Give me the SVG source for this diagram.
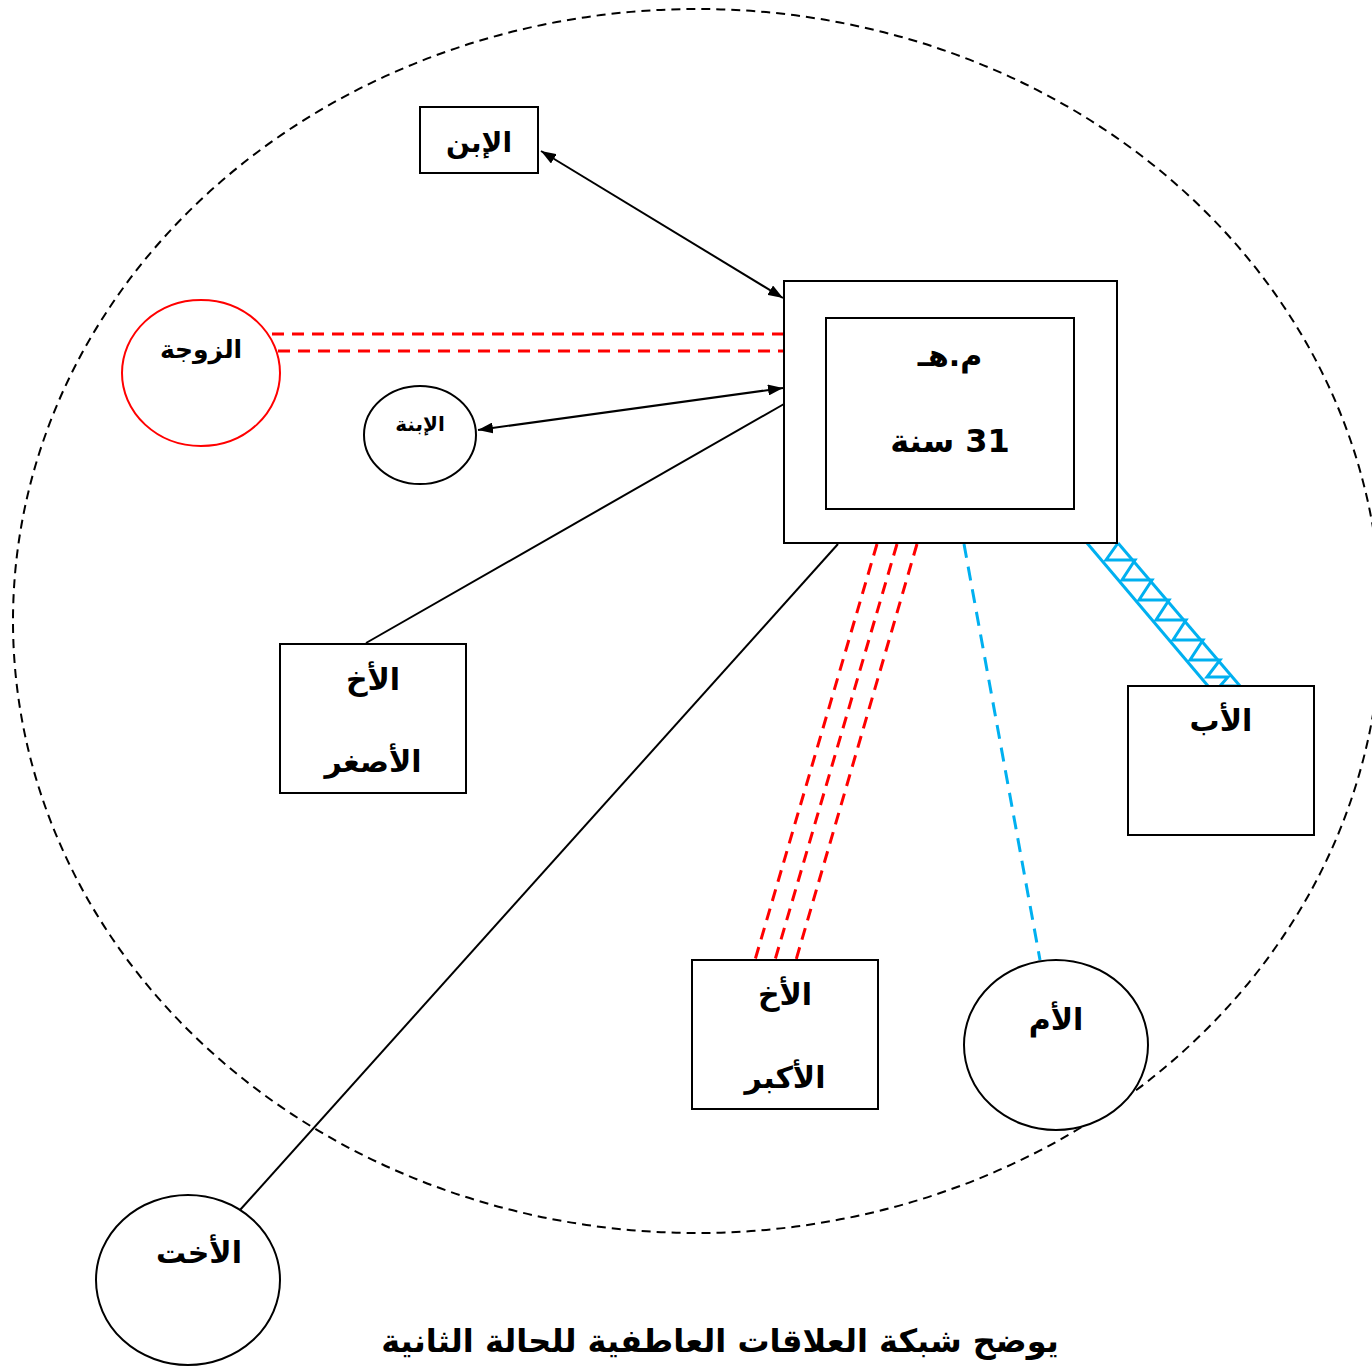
<svg xmlns="http://www.w3.org/2000/svg" width="1372" height="1366" viewBox="0 0 1372 1366">
<style>
.lbl{font-family:"DejaVu Sans","Noto Sans",sans-serif;font-weight:bold;fill:#000;text-anchor:middle;direction:rtl}
.box{fill:#fff;stroke:#000;stroke-width:2}
.blk{stroke:#000;stroke-width:2;fill:none}
.red{stroke:#ff0000;stroke-width:3;stroke-dasharray:12 8;fill:none}
.blue{stroke:#00b0f0;stroke-width:3;fill:none}
</style>
<defs>
<marker id="ah" viewBox="0 0 10 10" refX="10" refY="5" markerWidth="15" markerHeight="11" markerUnits="userSpaceOnUse" orient="auto-start-reverse" preserveAspectRatio="none">
<path d="M0,0 L10,5 L0,10 z" fill="#000"/>
</marker>
</defs>
<rect width="1372" height="1366" fill="#fff"/>
<ellipse id="boundary" cx="697" cy="621" rx="684" ry="612" fill="none" stroke="#000" stroke-width="2" stroke-dasharray="9 6"/>

<g id="connectors">
<line class="blk" x1="541" y1="151" x2="783" y2="298" marker-start="url(#ah)" marker-end="url(#ah)"/>
<line class="blk" x1="478" y1="430" x2="783" y2="388" marker-start="url(#ah)" marker-end="url(#ah)"/>
<line class="red" x1="272" y1="334" x2="784" y2="334"/>
<line class="red" x1="278" y1="351" x2="784" y2="351"/>
<line class="blk" x1="366" y1="643" x2="784" y2="404"/>
<line class="blk" x1="240" y1="1210" x2="838" y2="544"/>
<line class="red" x1="877" y1="544" x2="755" y2="960"/>
<line class="red" x1="897" y1="544" x2="775" y2="960"/>
<line class="red" x1="917" y1="544" x2="796" y2="960"/>
<line stroke="#00b0f0" stroke-width="3" stroke-dasharray="14 9" x1="964" y1="544" x2="1040" y2="960"/>
<g id="father-link" class="blue">
<line x1="1087" y1="543" x2="1208" y2="686"/>
<line x1="1118" y1="543" x2="1240" y2="686"/>
<polyline points="1118,543 1106,560 1135,560 1122,580 1152,580 1139,600 1169,600 1156,620 1186,620 1173,640 1203,640 1190,660 1220,660 1207,677 1228,677 1220,686 1238,686"/>
</g>
</g>

<g id="center">
<rect class="box" x="784" y="281" width="333" height="262"/>
<rect class="box" x="826" y="318" width="248" height="191"/>
<text class="lbl" x="950" y="366" font-size="30">م.هـ</text>
<text class="lbl" x="950" y="452" font-size="32">31 سنة</text>
</g>

<g id="son">
<rect class="box" x="420" y="107" width="118" height="66"/>
<text class="lbl" x="479" y="152" font-size="28">الإبن</text>
</g>

<g id="wife">
<ellipse cx="201" cy="373" rx="79" ry="73" fill="#fff" stroke="#ff0000" stroke-width="2"/>
<text class="lbl" x="201" y="358" font-size="25">الزوجة</text>
</g>

<g id="daughter">
<ellipse cx="420" cy="435" rx="56" ry="49" fill="#fff" stroke="#000" stroke-width="2"/>
<text class="lbl" x="420" y="431" font-size="20">الإبنة</text>
</g>

<g id="younger-brother">
<rect class="box" x="280" y="644" width="186" height="149"/>
<text class="lbl" x="373" y="690" font-size="30">الأخ</text>
<text class="lbl" x="373" y="772" font-size="30">الأصغر</text>
</g>

<g id="elder-brother">
<rect class="box" x="692" y="960" width="186" height="149"/>
<text class="lbl" x="785" y="1005" font-size="30">الأخ</text>
<text class="lbl" x="785" y="1088" font-size="30">الأكبر</text>
</g>

<g id="mother">
<ellipse cx="1056" cy="1045" rx="92" ry="85" fill="#fff" stroke="#000" stroke-width="2"/>
<text class="lbl" x="1056" y="1030" font-size="30">الأم</text>
</g>

<g id="father">
<rect class="box" x="1128" y="686" width="186" height="149"/>
<text class="lbl" x="1221" y="731" font-size="30">الأب</text>
</g>

<g id="sister">
<ellipse cx="188" cy="1280" rx="92" ry="85" fill="#fff" stroke="#000" stroke-width="2"/>
<text class="lbl" x="199" y="1263" font-size="30">الأخت</text>
</g>

<text class="lbl" x="720" y="1352" font-size="32">يوضح شبكة العلاقات العاطفية للحالة الثانية</text>
</svg>
